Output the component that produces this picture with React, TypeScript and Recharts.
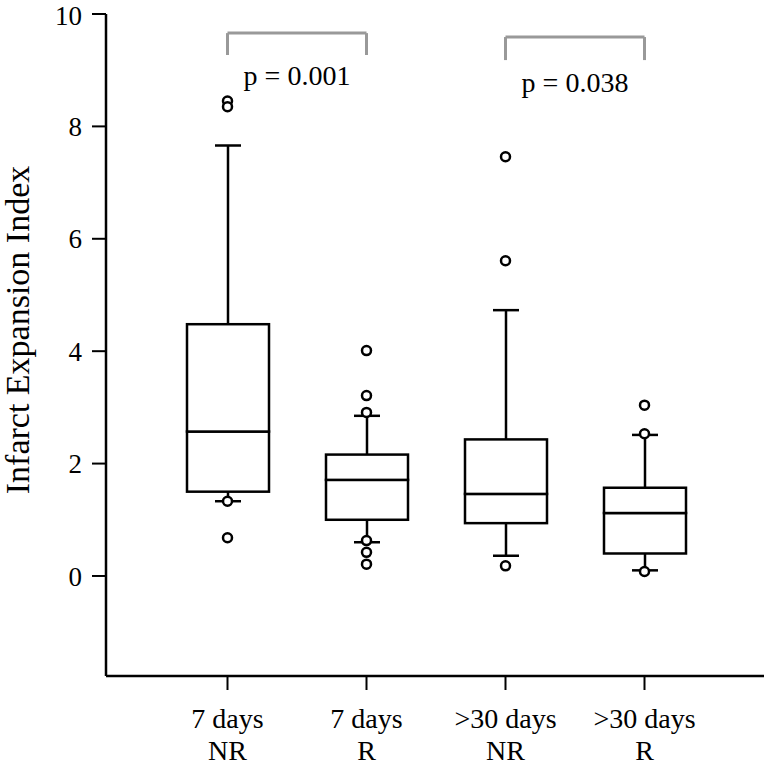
import React from 'react';
import {
    ComposedChart, Bar, Scatter, XAxis, YAxis, ReferenceLine, Label,
} from 'recharts';

const categories = ['7 days NR', '7 days R', '>30 days NR', '>30 days R'];
const tickLines = [['7 days', 'NR'], ['7 days', 'R'], ['>30 days', 'NR'], ['>30 days', 'R']];

const mins = [1.33, 0.6, 0.36, 0.1];
const q1s = [1.5, 1.0, 0.94, 0.4];
const medians = [2.57, 1.71, 1.46, 1.12];
const q3s = [4.48, 2.16, 2.43, 1.57];
const maxs = [7.66, 2.85, 4.73, 2.51];

const outlierCats = [
    '7 days NR', '7 days NR', '7 days NR', '7 days NR',
    '7 days R', '7 days R', '7 days R', '7 days R', '7 days R', '7 days R',
    '>30 days NR', '>30 days NR', '>30 days NR',
    '>30 days R', '>30 days R', '>30 days R',
];
const outlierValues = [
    8.45, 8.35, 1.33, 0.68,
    4.01, 3.21, 2.91, 0.63, 0.42, 0.21,
    7.46, 5.61, 0.18,
    3.04, 2.53, 0.08,
];

const yTicks = [0, 2, 4, 6, 8, 10];

// significance brackets: [from, to], top of bracket, end of legs, label
const bracketPairs = [['7 days NR', '7 days R'], ['>30 days NR', '>30 days R']];
const bracketTops = [9.66, 9.59];
const bracketLegs = [9.27, 9.18];
const pLabels = ['p = 0.001', 'p = 0.038'];

const FONT = 'Liberation Serif';

const boxData = categories.map((name, i) => ({
    name,
    base: mins[i],
    lowWhisker: q1s[i] - mins[i],
    lowBox: medians[i] - q1s[i],
    upBox: q3s[i] - medians[i],
    upWhisker: maxs[i] - q3s[i],
}));

const outliers = outlierCats.map((name, i) => ({ name, value: outlierValues[i] }));

const CAP = 13;

const LowWhisker = (props: any) => {
    const { x, y, width, height } = props;
    const cx = x + width / 2;
    return (
        <g stroke="#000" strokeWidth={2.5}>
            <line x1={cx} y1={y} x2={cx} y2={y + height} />
            <line x1={cx - CAP} y1={y + height} x2={cx + CAP} y2={y + height} />
        </g>
    );
};

const UpWhisker = (props: any) => {
    const { x, y, width, height } = props;
    const cx = x + width / 2;
    return (
        <g stroke="#000" strokeWidth={2.5}>
            <line x1={cx} y1={y} x2={cx} y2={y + height} />
            <line x1={cx - CAP} y1={y} x2={cx + CAP} y2={y} />
        </g>
    );
};

const BoxPart = (props: any) => {
    const { x, y, width, height } = props;
    return <rect x={x} y={y} width={width} height={height} fill="#fff" stroke="#000" strokeWidth={2.5} />;
};

const Dot = (props: any) => {
    const { cx, cy } = props;
    return <circle cx={cx} cy={cy} r={4.5} fill="#fff" stroke="#000" strokeWidth={2.5} />;
};

const CatTick = (props: any) => {
    const { x, y, index } = props;
    const lines = tickLines[index] || [];
    return (
        <text x={x} y={y} textAnchor="middle" style={{ fontFamily: FONT }} fontFamily={FONT} fontSize={28} fill="#000">
            <tspan x={x} dy={38}>{lines[0]}</tspan>
            <tspan x={x} dy={32}>{lines[1]}</tspan>
        </text>
    );
};

const YTitle = (props: any) => {
    const { viewBox } = props;
    const cy = viewBox.y + viewBox.height / 2 - 15;
    return (
        <text
            x={17}
            y={cy}
            transform={`rotate(-90, 17, ${cy})`}
            textAnchor="middle"
            dominantBaseline="central"
            style={{ fontFamily: FONT }}
            fontSize={34}
            fill="#000"
        >
            Infarct Expansion Index
        </text>
    );
};

const axisLine = { stroke: '#000', strokeWidth: 2.5 };
const tickLine = { stroke: '#000', strokeWidth: 2 };

export default function App() {
    return (
        <div style={{ position: 'absolute', left: 0, top: 0, background: '#fff', fontFamily: FONT }}>
            <ComposedChart
                width={769}
                height={767}
                data={boxData}
                margin={{ top: 14, right: 5, bottom: 0, left: 0 }}
                style={{ fontFamily: FONT }}
            >
                <XAxis
                    dataKey="name"
                    type="category"
                    allowDuplicatedCategory={false}
                    padding={{ left: 52, right: 50 }}
                    height={91}
                    axisLine={axisLine}
                    tickLine={tickLine}
                    tickSize={14}
                    tickMargin={0}
                    tick={<CatTick />}
                    interval={0}
                />
                <XAxis
                    xAxisId="top"
                    orientation="top"
                    dataKey="name"
                    height={0}
                    axisLine={axisLine}
                    tick={false}
                    tickLine={false}
                />
                <YAxis
                    type="number"
                    domain={[-1.78, 10]}
                    ticks={yTicks}
                    width={106}
                    axisLine={axisLine}
                    tickLine={tickLine}
                    tickSize={14}
                    tickMargin={10}
                    tick={{ fill: '#000', fontSize: 27, fontFamily: FONT }}
                >
                    <Label content={<YTitle />} />
                </YAxis>
                <YAxis
                    yAxisId="right"
                    orientation="right"
                    type="number"
                    domain={[-1.78, 10]}
                    width={0}
                    axisLine={axisLine}
                    tick={false}
                    tickLine={false}
                />

                <Bar dataKey="base" stackId="box" fill="transparent" barSize={82} isAnimationActive={false} />
                <Bar dataKey="lowWhisker" stackId="box" shape={<LowWhisker />} barSize={82} isAnimationActive={false} />
                <Bar dataKey="lowBox" stackId="box" shape={<BoxPart />} barSize={82} isAnimationActive={false} />
                <Bar dataKey="upBox" stackId="box" shape={<BoxPart />} barSize={82} isAnimationActive={false} />
                <Bar dataKey="upWhisker" stackId="box" shape={<UpWhisker />} barSize={82} isAnimationActive={false} />

                <Scatter data={outliers} dataKey="value" shape={<Dot />} isAnimationActive={false} />

                {bracketPairs.map((pair, i) => (
                    <ReferenceLine
                        key={`top-${i}`}
                        segment={[{ x: pair[0], y: bracketTops[i] }, { x: pair[1], y: bracketTops[i] }]}
                        stroke="#999"
                        strokeWidth={3}
                    >
                        <Label
                            value={pLabels[i]}
                            position="bottom"
                            offset={i === 0 ? 32 : 35}
                            fill="#000"
                            fontSize={28}
                            fontFamily={FONT}
                        />
                    </ReferenceLine>
                ))}
                {bracketPairs.map((pair, i) =>
                    pair.map((cat, j) => (
                        <ReferenceLine
                            key={`leg-${i}-${j}`}
                            segment={[{ x: cat, y: bracketTops[i] }, { x: cat, y: bracketLegs[i] }]}
                            stroke="#999"
                            strokeWidth={3}
                        />
                    ))
                )}
            </ComposedChart>
        </div>
    );
}
